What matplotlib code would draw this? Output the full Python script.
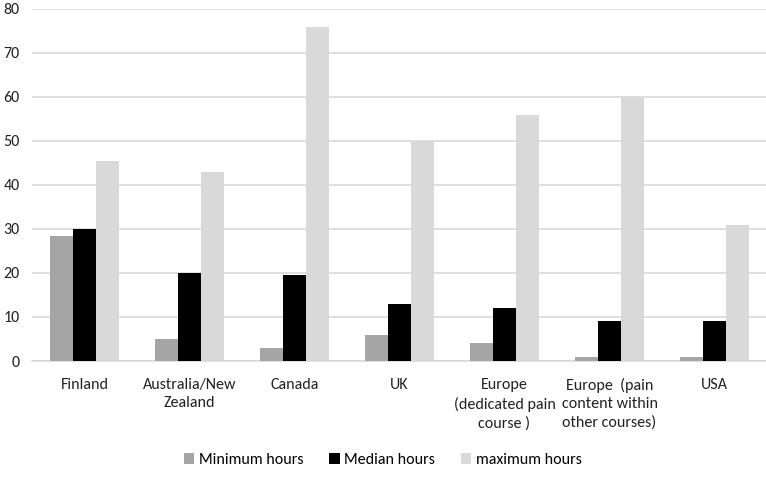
import numpy as np
import matplotlib.pyplot as plt

plt.rcParams['font.family'] = ['Carlito', 'DejaVu Sans']

categories = ['Finland', 'Australia/New\nZealand', 'Canada', 'UK',
              'Europe\n(dedicated pain\ncourse )',
              'Europe  (pain\ncontent within\nother courses)', 'USA']
min_hours = [28.5, 5, 3, 6, 4, 1, 1]
median_hours = [30, 20, 19.5, 13, 12, 9, 9]
max_hours = [45.5, 43, 76, 50, 56, 60, 31]

fig = plt.figure(figsize=(7.66, 4.86), dpi=100)
ax = fig.add_axes([32 / 766, 1 - 361 / 486, 735 / 766, 352 / 486])

x = np.arange(len(categories))
w = 0.22
ax.bar(x - w, min_hours, w, color='#a5a5a5', label='Minimum hours', zorder=3)
ax.bar(x, median_hours, w, color='#000000', label='Median hours', zorder=3)
ax.bar(x + w, max_hours, w, color='#d9d9d9', label='maximum hours', zorder=3)

ax.set_xlim(-0.5, len(categories) - 0.5)
ax.set_ylim(0, 80)
ax.set_yticks(np.arange(0, 81, 10))
ax.yaxis.grid(True, color='#d9d9d9', linewidth=1.2, zorder=0)
ax.set_xticks(x)
ax.set_xticklabels(categories, fontsize=11.5, color='#222222', linespacing=1.4)
ax.tick_params(axis='y', labelsize=11.5, labelcolor='#222222', length=0, pad=9)
ax.tick_params(axis='x', length=0, pad=12)
for s in ['top', 'right', 'left']:
    ax.spines[s].set_visible(False)
ax.spines['bottom'].set_color('#d9d9d9')
ax.spines['bottom'].set_linewidth(1.2)

fig.legend(loc='center', bbox_to_anchor=(0.5, 1 - 460 / 486), ncol=3,
           frameon=False, fontsize=11.5, handlelength=0.65, handleheight=0.65,
           columnspacing=1.6, handletextpad=0.3)

fig.savefig('out.png', dpi=100)
